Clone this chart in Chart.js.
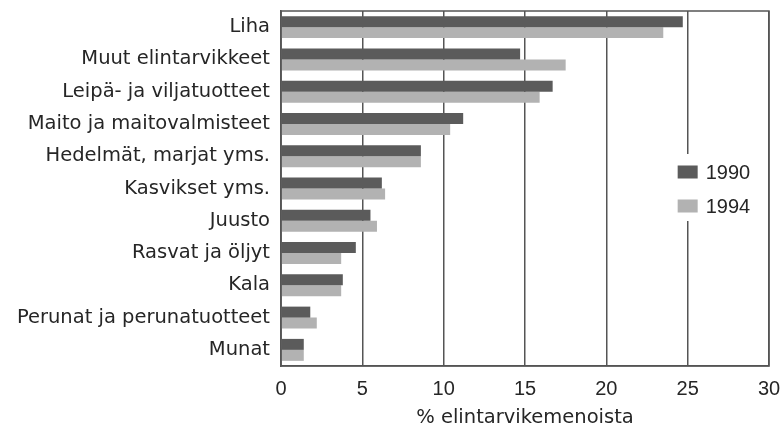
<!DOCTYPE html>
<html>
<head>
<meta charset="utf-8">
<script src="https://cdn.jsdelivr.net/npm/chart.js@4/dist/chart.umd.min.js"></script>
<style>
  html, body { margin: 0; padding: 0; background: #ffffff; }
  #wrap { width: 784px; height: 430px; position: relative; }
</style>
</head>
<body>
<div id="wrap"><canvas id="c" width="784" height="430"></canvas></div>
<script>
const categories = [
  "Liha",
  "Muut elintarvikkeet",
  "Leipä- ja viljatuotteet",
  "Maito ja maitovalmisteet",
  "Hedelmät, marjat yms.",
  "Kasvikset yms.",
  "Juusto",
  "Rasvat ja öljyt",
  "Kala",
  "Perunat ja perunatuotteet",
  "Munat"
];
const values1990 = [24.7, 14.7, 16.7, 11.2, 8.6, 6.2, 5.5, 4.6, 3.8, 1.8, 1.4];
const values1994 = [23.5, 17.5, 15.9, 10.4, 8.6, 6.4, 5.9, 3.7, 3.7, 2.2, 1.4];
const seriesLabels = ["1990", "1994"];
const xTicks = [0, 5, 10, 15, 20, 25, 30];
const axisTitle = "% elintarvikemenoista";

const FONT = "'DejaVu Sans', sans-serif";
const NUMFONT = "'Liberation Sans', Arial, sans-serif";
const TEXT = "#262626";
const GRID = "#555555";

const framePlugin = {
  id: 'frame',
  afterDatasetsDraw(chart) {
    const { ctx, chartArea: a } = chart;
    ctx.save();
    ctx.strokeStyle = GRID;
    ctx.lineWidth = 1.5;
    ctx.strokeRect(a.left, a.top, a.right - a.left, a.bottom - a.top);
    ctx.restore();
  }
};

const legendPlugin = {
  id: 'customLegend',
  afterDraw(chart) {
    const { ctx } = chart;
    const xs = chart.scales.x;
    const cx = xs.getPixelForValue(25);
    ctx.save();
    ctx.fillStyle = '#ffffff';
    ctx.fillRect(cx - 14, 154, 80, 67);
    ctx.font = "20px " + NUMFONT;
    ctx.textBaseline = 'middle';
    chart.data.datasets.forEach((ds, i) => {
      const y = 172 + i * 34;
      ctx.fillStyle = ds.backgroundColor;
      ctx.fillRect(cx - 10, y - 6.5, 20, 13);
      ctx.fillStyle = TEXT;
      ctx.fillText(ds.label, cx + 18, y + 1);
    });
    ctx.restore();
  }
};

new Chart(document.getElementById('c'), {
  type: 'bar',
  data: {
    labels: categories,
    datasets: [
      { label: seriesLabels[0], data: values1990, backgroundColor: '#5b5b5b' },
      { label: seriesLabels[1], data: values1994, backgroundColor: '#b2b2b2' }
    ]
  },
  options: {
    indexAxis: 'y',
    responsive: false,
    animation: false,
    devicePixelRatio: 1,
    categoryPercentage: 0.68,
    barPercentage: 1.0,
    layout: { padding: { top: 11, right: 15, left: 0, bottom: 0 } },
    plugins: {
      legend: { display: false },
      tooltip: { enabled: false }
    },
    scales: {
      x: {
        type: 'linear',
        min: xTicks[0],
        max: xTicks[xTicks.length - 1],
        afterBuildTicks(scale) { scale.ticks = xTicks.map(v => ({ value: v })); },
        afterFit(scale) {
          scale.height = 64;
          scale.paddingLeft = 0;
          scale.paddingRight = 0;
        },
        grid: { color: GRID, lineWidth: 1.5, drawTicks: false },
        border: { display: true, color: GRID, width: 1.5 },
        ticks: { color: TEXT, font: { family: NUMFONT, size: 20 }, padding: 11 },
        title: {
          display: true,
          text: axisTitle,
          color: TEXT,
          font: { family: FONT, size: 19.5 },
          padding: { top: 4, bottom: 0 }
        }
      },
      y: {
        afterFit(scale) {
          scale.width = 281;
          scale.paddingTop = 0;
          scale.paddingBottom = 0;
        },
        grid: { display: false, drawTicks: false },
        border: { display: true, color: GRID, width: 1.5 },
        ticks: { color: TEXT, font: { family: FONT, size: 19.5 }, padding: 11 }
      }
    }
  },
  plugins: [framePlugin, legendPlugin]
});
</script>
</body>
</html>
